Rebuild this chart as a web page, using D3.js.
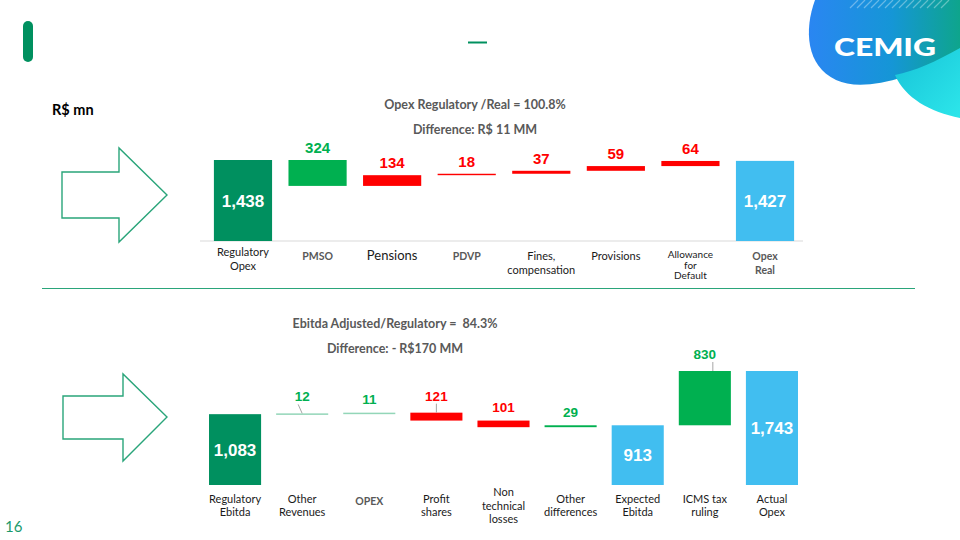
<!DOCTYPE html>
<html><head><meta charset="utf-8">
<script src="https://cdn.jsdelivr.net/npm/d3@7"></script>
<style>html,body{margin:0;padding:0;background:#fff;}svg{display:block;}text{white-space:pre;}</style>
</head><body>
<svg id="c" width="960" height="540"></svg>
<script>
// ---------- DATA ----------
const topCategories = [["Regulatory","Opex"],["PMSO"],["Pensions"],["PDVP"],["Fines,","compensation"],["Provisions"],["Allowance","for","Default"],["Opex","Real"]];
const topValues = [1438, -324, 134, 18, 37, 59, 64, 1427];
const topKinds = ["total","delta","delta","delta","delta","delta","delta","total"];
const topLabels = ["1,438","324","134","18","37","59","64","1,427"];

const botCategories = [["Regulatory","Ebitda"],["Other","Revenues"],["OPEX"],["Profit","shares"],["Non","technical","losses"],["Other","differences"],["Expected","Ebitda"],["ICMS tax","ruling"],["Actual","Opex"]];
const botValues = [1083, 12, 11, -121, -101, 29, 913, 830, 1743];
const botKinds = ["total","delta","delta","delta","delta","delta","total","delta","total"];
const botLabels = ["1,083","12","11","121","101","29","913","830","1,743"];

const topTitle = ["Opex Regulatory /Real = 100.8%","Difference: R$ 11 MM"];
const botTitle = ["Ebitda Adjusted/Regulatory =  84.3%","Difference: - R$170 MM"];

// ---------- STYLE ----------
const DKGREEN="#00905f", GREEN="#00b050", LTGREEN="#93d6b8", RED="#ff0000", BLUE="#41bef0";
const topColors=[DKGREEN,GREEN,RED,RED,RED,RED,RED,BLUE];
const botColors=[DKGREEN,LTGREEN,LTGREEN,RED,RED,GREEN,BLUE,GREEN,BLUE];
const topLabelColors=["#fff",GREEN,RED,RED,RED,RED,RED,"#fff"];
const botLabelColors=["#fff",GREEN,GREEN,RED,RED,GREEN,"#fff",GREEN,"#fff"];
const topCatStyle=[0,1,2,1,0,0,3,1]; // 0 dark regular, 1 gray bold, 2 larger, 3 small
const botCatStyle=[0,0,1,0,0,0,0,0,0];

const svg=d3.select("#c");

function waterfall(values,kinds){
  let cum=0;
  return values.map((v,i)=>{
    if(kinds[i]==="total"){cum=v;return {start:null,end:v,kind:"total"};}
    const s=cum;cum=cum+v;return {start:s,end:cum,kind:"delta"};
  });
}

// header decorations
svg.append("rect").attr("x",23).attr("y",21).attr("width",10).attr("height",41).attr("rx",5).attr("fill","#00905f");
svg.append("line").attr("x1",468).attr("x2",487).attr("y1",42.5).attr("y2",42.5).attr("stroke","#00905f").attr("stroke-width",2);

// logo
const defs=svg.append("defs");
const g1=defs.append("linearGradient").attr("id","lg1").attr("x1","0").attr("x2","1").attr("y1","0").attr("y2","0");
g1.append("stop").attr("offset","0").attr("stop-color","#2a86f2");
g1.append("stop").attr("offset","0.55").attr("stop-color","#1596d6");
g1.append("stop").attr("offset","1").attr("stop-color","#0ea58c");
const g2=defs.append("linearGradient").attr("id","lg2").attr("x1","0").attr("x2","1").attr("y1","0").attr("y2","1");
g2.append("stop").attr("offset","0").attr("stop-color","#17c3d8");
g2.append("stop").attr("offset","1").attr("stop-color","#2de6ea");
svg.append("path").attr("d","M 815 0 C 804 30, 806 66, 836 80 C 862 92, 905 80, 960 55 L 960 0 Z").attr("fill","url(#lg1)");
svg.append("path").attr("d","M 895 75 C 905 98, 930 112, 960 118 L 960 48 C 935 62, 915 71, 895 75 Z").attr("fill","url(#lg2)");
const hatch=svg.append("g").attr("stroke","#ffffff").attr("stroke-opacity",0.35).attr("stroke-width",1.2);
for(let k=0;k<14;k++){const x=850+k*7;hatch.append("line").attr("x1",x).attr("y1",8).attr("x2",x+8).attr("y2",0);}
svg.append("text").attr("x",885).attr("y",56).attr("text-anchor","middle").attr("font-family","Lato, sans-serif").attr("font-weight",900).attr("font-size",24).attr("textLength",102).attr("lengthAdjust","spacingAndGlyphs").attr("fill","#fff").text("CEMIG");

// unit label
svg.append("text").attr("x",52).attr("y",115).attr("font-family","Lato, sans-serif").attr("font-weight",700).attr("font-size",14.5).attr("fill","#000").text("R$ mn");

// arrows
const arrow=d3.line();
svg.append("path").attr("d",arrow([[62,172],[119,172],[119,148],[167,195],[119,242],[119,218],[62,218]])+"Z").attr("fill","#fff").attr("stroke","#2aa57a").attr("stroke-width",1.4);
svg.append("path").attr("d",arrow([[63,396],[123,396],[123,374],[167,417],[123,461],[123,439],[63,439]])+"Z").attr("fill","#fff").attr("stroke","#2aa57a").attr("stroke-width",1.4);

// separator
svg.append("line").attr("x1",42).attr("x2",915).attr("y1",288.5).attr("y2",288.5).attr("stroke","#2aa57a").attr("stroke-width",1);

// page number
svg.append("text").attr("x",5).attr("y",532).attr("font-family","Lato, sans-serif").attr("font-size",15).attr("fill","#1a9a6c").text("16");

function titles(lines,cx,y0,dy){
  lines.forEach((t,i)=>svg.append("text").attr("x",cx).attr("y",y0+i*dy).attr("text-anchor","middle")
    .attr("font-family","Lato, sans-serif").attr("font-weight",700).attr("font-size",12.5).attr("fill","#595959").text(t));
}
titles(topTitle,475,109,25);
titles(botTitle,395,328,25);

function catText(g,lines,cx,y,style,spacing){
  const fs=style===2?13:(style===1?10.5:(style===3?10:11));
  const t=g.append("text").attr("text-anchor","middle").attr("font-family","Lato, sans-serif")
    .attr("font-size",fs).attr("font-weight",style===1?700:400)
    .attr("fill",style===1?"#595959":"#1a1a1a");
  lines.forEach((l,i)=>t.append("tspan").attr("x",cx).attr("y",y+i*spacing).text(l));
}

// ---------- TOP CHART ----------
{
  const x=d3.scaleBand().domain(d3.range(topValues.length)).range([205.7,802.3]).paddingInner(0.22).paddingOuter(0.11);
  const y=d3.scaleLinear().domain([425,1438]).range([241,160]);
  const wf=waterfall(topValues,topKinds);
  const g=svg.append("g");
  g.append("line").attr("x1",200).attr("x2",803).attr("y1",241).attr("y2",241).attr("stroke","#d9d9d9").attr("stroke-width",1);
  wf.forEach((d,i)=>{
    const a=d.kind==="total"?y.domain()[0]:d.start;
    const y1=Math.min(y(a),y(d.end)), y2=Math.max(y(a),y(d.end));
    const h=Math.max(y2-y1,1.2);
    g.append("rect").attr("x",x(i)).attr("y",y1).attr("width",x.bandwidth()).attr("height",h).attr("fill",topColors[i]);
    const lbl=g.append("text").attr("text-anchor","middle").attr("font-family","'Liberation Sans', Arial, sans-serif").attr("font-weight",700).attr("fill",topLabelColors[i]);
    if(d.kind==="total"){
      lbl.attr("x",x(i)+x.bandwidth()/2).attr("y",(y1+y2)/2+6).attr("font-size",17).text(topLabels[i]);
    } else {
      lbl.attr("x",x(i)+x.bandwidth()/2).attr("y",y1-7).attr("font-size",15).text(topLabels[i]);
    }
    const lines=topCategories[i];
    const sp=lines.length>2?10.5:13.5;
    const y0=lines.length===2&&i===0?252:(lines.length>2?254:256);
    catText(g,lines,x(i)+x.bandwidth()/2,y0+4,topCatStyle[i],sp);
  });
}

// ---------- BOTTOM CHART ----------
{
  const x=d3.scaleBand().domain(d3.range(botValues.length)).range([201.5,805.5]).paddingInner(0.224).paddingOuter(0.112);
  const y=d3.scaleLinear().domain([0,1743]).range([485,371]);
  const wf=waterfall(botValues,botKinds);
  const g=svg.append("g");
  const leader=[1,3,7];
  wf.forEach((d,i)=>{
    const a=d.kind==="total"?0:d.start;
    const y1=Math.min(y(a),y(d.end)), y2=Math.max(y(a),y(d.end));
    const h=Math.max(y2-y1,1.5);
    const cx=x(i)+x.bandwidth()/2;
    g.append("rect").attr("x",x(i)).attr("y",y1).attr("width",x.bandwidth()).attr("height",h).attr("fill",botColors[i]);
    const lbl=g.append("text").attr("text-anchor","middle").attr("font-family","'Liberation Sans', Arial, sans-serif").attr("font-weight",700).attr("fill",botLabelColors[i]);
    if(d.kind==="total"){
      lbl.attr("x",cx).attr("y",(y1+y2)/2+6).attr("font-size",17).text(botLabels[i]);
    } else {
      const lift=leader.includes(i)?17:13.5;
      lbl.attr("x",cx).attr("y",y1-lift+5).attr("font-size",13.5).text(botLabels[i]);
      if(leader.includes(i)){
        const lx=i===1?cx-4:(i===7?cx+8:cx);
        g.append("line").attr("x1",lx).attr("y1",y1-lift+8).attr("x2",i===1?lx+4:lx).attr("y2",y1)
          .attr("stroke","#a6a6a6").attr("stroke-width",1);
      }
    }
    const lines=botCategories[i];
    const sp=13.5;
    const y0=lines.length===1?501:505.5-(lines.length-1)*sp/2;
    catText(g,lines,cx,y0+4,botCatStyle[i],sp);
  });
}
</script>
</body></html>
